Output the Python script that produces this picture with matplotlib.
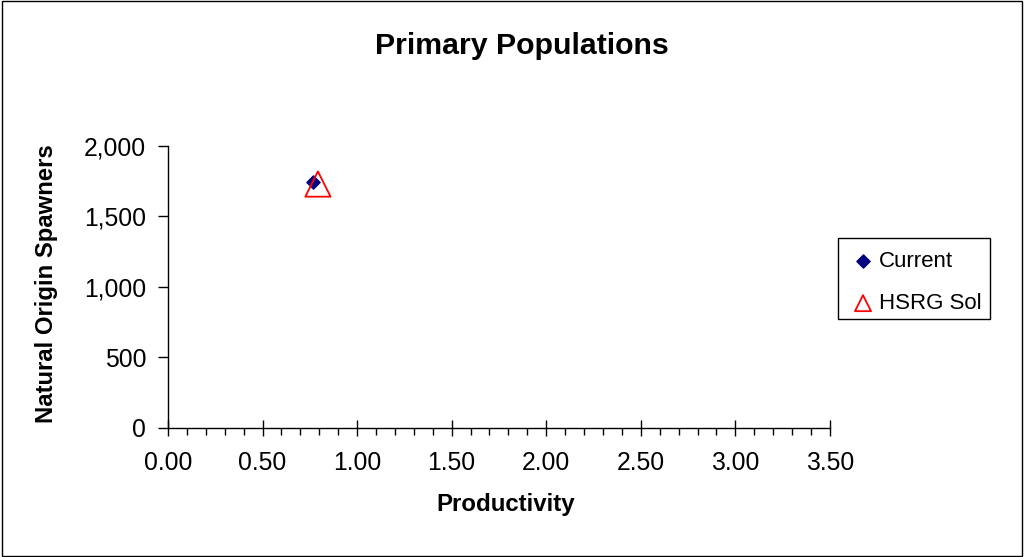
import matplotlib
matplotlib.use("Agg")
import matplotlib.pyplot as plt
from matplotlib.ticker import MultipleLocator, FuncFormatter
from matplotlib.patches import Rectangle

plt.rcParams['font.family'] = ['Liberation Sans', 'DejaVu Sans']

# Series data
current_prod = [0.767]
current_nos = [1745]
hsrg_prod = [0.793]
hsrg_nos = [1730]

W, H = 1024, 557
fig = plt.figure(figsize=(W / 100, H / 100), dpi=100)
ax = fig.add_axes([0.164, 0.2316, 0.6465, 0.5063])

ax.scatter(current_prod, current_nos, marker='D', s=45, color='#000080',
           zorder=3, label='Current')
ax.scatter(hsrg_prod, hsrg_nos, marker='^', s=330, facecolors='none',
           edgecolors='#FF0000', linewidths=1.3, zorder=4, label='HSRG Sol')

ax.set_xlim(0, 3.5)
ax.set_ylim(0, 2000)
ax.xaxis.set_major_locator(MultipleLocator(0.5))
ax.xaxis.set_minor_locator(MultipleLocator(0.1))
ax.yaxis.set_major_locator(MultipleLocator(500))
ax.xaxis.set_major_formatter(FuncFormatter(lambda v, p: f"{v:.2f}"))
ax.yaxis.set_major_formatter(FuncFormatter(lambda v, p: f"{v:,.0f}"))

for s in ('top', 'right'):
    ax.spines[s].set_visible(False)
for s in ('left', 'bottom'):
    ax.spines[s].set_color('black')
    ax.spines[s].set_linewidth(1.0)

ax.tick_params(axis='x', which='major', direction='inout', length=11,
               width=1.0, labelsize=17.8, pad=11)
ax.tick_params(axis='x', which='minor', direction='out', length=5, width=1.0)
ax.tick_params(axis='y', which='major', direction='out', length=7,
               width=1.0, labelsize=17.8, pad=8.6)

fig.text(506 / W, 1 - 505 / H, 'Productivity', ha='center', va='center',
         fontsize=17.3, fontweight='bold')
fig.text(47 / W, 1 - 284 / H, 'Natural Origin Spawners', ha='center',
         va='center', rotation=90, fontsize=17.2, fontweight='bold')
fig.text(521.5 / W, 1 - 45.5 / H, 'Primary Populations', ha='center',
         va='center', fontsize=21.8, fontweight='bold')

# Legend entries, with the box drawn as its own rectangle
leg = fig.legend(loc='upper left', bbox_to_anchor=(838 / W, 1 - 242 / H),
                 frameon=False, fontsize=16,
                 handletextpad=0.0, borderpad=0.4, labelspacing=0.95,
                 handlelength=1.45, borderaxespad=0)
leg.legend_handles[0].set_sizes([45])
leg.legend_handles[1].set_sizes([133])
fig.patches.append(Rectangle((838 / W, 1 - 319 / H), 152 / W, 81 / H,
                             transform=fig.transFigure, fill=False,
                             edgecolor='black', linewidth=1.0))

# Outer frame around the whole chart
fig.patches.append(Rectangle((0.0015, 0.002), 0.997, 0.996,
                             transform=fig.transFigure, fill=False,
                             edgecolor='black', linewidth=1.0))

fig.savefig('out.png', dpi=100)
